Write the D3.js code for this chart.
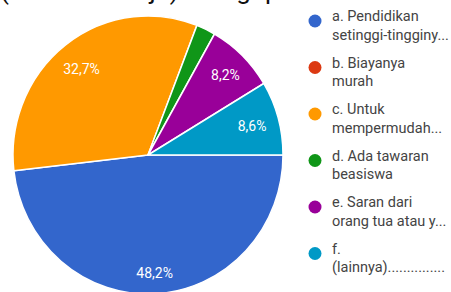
<!DOCTYPE html>
<html>
<head>
<meta charset="utf-8">
<script src="https://cdn.jsdelivr.net/npm/d3@7"></script>
<style>
  body { margin: 0; background: #fff; }
  svg { display: block; font-family: Roboto, "Noto Sans", sans-serif; }
</style>
</head>
<body>
<svg class="chart"></svg>
<script>
const categories = ["a", "b", "c", "d", "e", "f"];
const legendLines = [
  ["a. Pendidikan", "setinggi-tingginy..."],
  ["b. Biayanya", "murah"],
  ["c. Untuk", "mempermudah..."],
  ["d. Ada tawaran", "beasiswa"],
  ["e. Saran dari", "orang tua atau y..."],
  ["f.", "(lainnya)..............."],
];
const values = [48.2, 0, 32.7, 2.3, 8.2, 8.6];
const colors = ["#3366cc", "#dc3912", "#ff9900", "#109618", "#990099", "#0099c6"];
const titleText = "(Pilih satu saja) Mengapa anda memilih jurusan ini?";

const width = 451;
const height = 292;
const cx = 148;
const cy = 155;
const radius = 135;

const svg = d3.select('.chart')
  .attr('width', width)
  .attr('height', height);

svg.append('rect')
  .attr('width', width)
  .attr('height', height)
  .attr('fill', '#fff');

// title, mostly cut off at the top of the screenshot
svg.append('text')
  .attr('x', 0)
  .attr('y', -1)
  .attr('font-size', 26)
  .attr('fill', '#111')
  .text(titleText);

const data = categories.map((c, i) => ({key: c, value: values[i]}));

const pie = d3.pie()
  .sort(null)
  .value(d => d.value)
  .startAngle(Math.PI / 2)
  .endAngle(Math.PI / 2 + 2 * Math.PI);

const arc = d3.arc()
  .innerRadius(0)
  .outerRadius(radius);

const color = d3.scaleOrdinal()
  .domain(categories)
  .range(colors);

const arcs = pie(data);

const g = svg.append('g')
  .attr('transform', `translate(${cx}, ${cy}) scale(1, 1.03)`);

g.selectAll('.slice')
  .data(arcs.filter(d => d.value > 0))
  .enter()
.append('path')
  .attr('class', 'slice')
  .attr('d', arc)
  .attr('fill', d => color(d.data.key))
  .attr('stroke', '#fff')
  .attr('stroke-width', 1.5)
  .attr('stroke-linejoin', 'round');

const locale = d3.formatLocale({decimal: ",", thousands: ".", grouping: [3], currency: ["", ""]});
const fmt = locale.format(".1f");
const total = d3.sum(values);

// labels pushed out along the mid angle until the box touches the rim
const labels = svg.append('g')
  .attr('transform', `translate(${cx}, ${cy})`);

arcs.filter(d => d.value / total >= 0.05).forEach(d => {
  const t = labels.append('text')
    .attr('font-size', 14)
    .attr('fill', '#fff')
    .attr('text-anchor', 'middle')
    .attr('dy', '0.35em')
    .text(fmt(d.value / total * 100) + '%');
  const hw = t.node().getComputedTextLength() / 2;
  const hh = 7;
  const a = (d.startAngle + d.endAngle) / 2;
  const ux = Math.sin(a);
  const uy = -Math.cos(a);
  const limit = radius - 12 + 5 * Math.abs(Math.cos(a));
  let dist = radius;
  for (; dist > 0; dist -= 1) {
    const px = ux * dist;
    const py = uy * dist;
    const far = Math.hypot(Math.abs(px) + hw, Math.abs(py) + hh);
    if (far <= limit) break;
  }
  t.attr('x', ux * dist).attr('y', uy * dist);
});

// legend
const legendY = d3.scaleLinear()
  .domain([0, categories.length - 1])
  .range([21, 253.5]);

const legend = svg.selectAll('.legend')
  .data(categories)
  .enter()
.append('g')
  .attr('class', 'legend')
  .attr('transform', (d, i) => `translate(315, ${legendY(i)})`);

legend.append('circle')
  .attr('r', 6.5)
  .attr('fill', d => color(d));

const lt = legend.append('text')
  .attr('x', 17)
  .attr('y', 0)
  .attr('dy', '0.35em')
  .attr('font-size', 14.5)
  .attr('fill', '#444');

lt.selectAll('tspan')
  .data((d, i) => legendLines[i])
  .enter()
.append('tspan')
  .attr('x', 17)
  .attr('dy', (d, i) => i === 0 ? 0 : 18.5)
  .text(d => d);
</script>
</body>
</html>
